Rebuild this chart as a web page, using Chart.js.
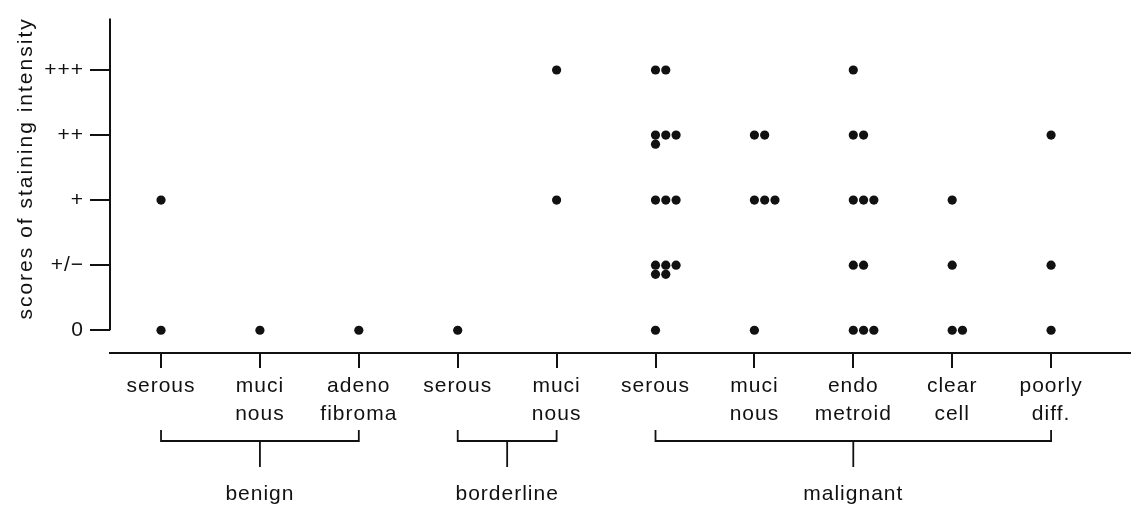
<!DOCTYPE html>
<html>
<head>
<meta charset="utf-8">
<script src="https://cdn.jsdelivr.net/npm/chart.js@4/dist/chart.umd.min.js"></script>
<style>
  html, body { margin: 0; padding: 0; background: #fff; }
  #wrap { width: 1136px; height: 506px; }
</style>
</head>
<body>
<div id="wrap"><canvas id="chart"></canvas></div>
<script>
// tumour subtypes along the x axis (two-line labels)
const categories = [
  ['serous'], ['muci', 'nous'], ['adeno', 'fibroma'],
  ['serous'], ['muci', 'nous'],
  ['serous'], ['muci', 'nous'], ['endo', 'metroid'], ['clear', 'cell'], ['poorly', 'diff.']
];
const yTickValues = [0, 1, 2, 3, 4];
const yTickLabels = ['0', '+/\u2212', '+', '++', '+++'];

// number of cases per subtype at each staining score
const nScore0    = [1, 1, 1, 1, 0, 1, 1, 3, 2, 1];
const nScorePM   = [0, 0, 0, 0, 0, 5, 0, 2, 1, 1];
const nScore1    = [1, 0, 0, 0, 1, 3, 3, 3, 1, 0];
const nScore2    = [0, 0, 0, 0, 0, 4, 2, 2, 0, 1];
const nScore3    = [0, 0, 0, 0, 1, 2, 0, 1, 0, 0];

// groups under the bracket
const groups     = ['benign', 'borderline', 'malignant'];
const groupFirst = [0, 3, 5];
const groupLast  = [2, 4, 9];

const ink = '#111';
const fontFamily = '"Liberation Sans", Arial, Helvetica, sans-serif';

// dots sit side by side, 3 per row, extra rows drop slightly below
const levels = [nScore0, nScorePM, nScore1, nScore2, nScore3];
const points = [];
categories.forEach((c, i) => {
  levels.forEach((arr, score) => {
    for (let k = 0; k < arr[i]; k++) {
      points.push({ x: i + (k % 3) * 0.104, y: score - Math.floor(k / 3) * 0.14 });
    }
  });
});

const axisPlugin = {
  id: 'axisExtras',
  beforeDraw(chart) {
    chart.ctx.letterSpacing = '1px';
  },
  afterDraw(chart) {
    const { ctx, chartArea, scales: { x, y } } = chart;
    ctx.save();
    ctx.strokeStyle = ink;
    ctx.fillStyle = ink;
    ctx.lineWidth = 2;

    // vertical axis stops at score 0
    ctx.beginPath();
    ctx.moveTo(chartArea.left, chartArea.top);
    ctx.lineTo(chartArea.left, y.getPixelForValue(0));
    ctx.stroke();

    // group brackets
    const base = chartArea.bottom;
    ctx.lineWidth = 1.8;
    ctx.font = '21px ' + fontFamily;
    ctx.textAlign = 'center';
    ctx.textBaseline = 'alphabetic';
    groups.forEach((g, i) => {
      const x0 = x.getPixelForValue(groupFirst[i]);
      const x1 = x.getPixelForValue(groupLast[i]);
      const xm = x.getPixelForValue((groupFirst[i] + groupLast[i]) / 2);
      ctx.beginPath();
      ctx.moveTo(x0, base + 77);
      ctx.lineTo(x0, base + 88);
      ctx.lineTo(x1, base + 88);
      ctx.lineTo(x1, base + 77);
      ctx.moveTo(xm, base + 88);
      ctx.lineTo(xm, base + 114);
      ctx.stroke();
      ctx.fillText(g, xm, base + 147);
    });

    // y axis title
    ctx.translate(26, (chartArea.top + y.getPixelForValue(0)) / 2 - 6);
    ctx.rotate(-Math.PI / 2);
    ctx.font = '21px ' + fontFamily;
    ctx.letterSpacing = '2px';
    ctx.textBaseline = 'middle';
    ctx.fillText('scores of staining intensity', 0, 0);
    ctx.restore();
  }
};

Chart.defaults.font.family = fontFamily;
Chart.defaults.color = ink;

new Chart(document.getElementById('chart'), {
  type: 'scatter',
  data: {
    datasets: [{
      data: points,
      backgroundColor: ink,
      borderWidth: 0,
      pointRadius: 4.6,
      pointHoverRadius: 4.6
    }]
  },
  options: {
    responsive: true,
    maintainAspectRatio: false,
    animation: false,
    layout: { padding: { left: 0, right: 6, top: 15, bottom: 0 } },
    plugins: { legend: { display: false }, tooltip: { enabled: false } },
    scales: {
      x: {
        type: 'linear',
        min: -0.516,
        max: 9.798,
        afterBuildTicks: s => { s.ticks = categories.map((c, i) => ({ value: i })); },
        afterFit: s => { s.height = 153; },
        ticks: {
          autoSkip: false,
          maxRotation: 0,
          padding: 4,
          font: { size: 21, lineHeight: 1.333 },
          callback: v => categories[v]
        },
        grid: { drawOnChartArea: false, drawTicks: true, tickLength: 15, color: ink, lineWidth: 2 },
        border: { display: true, color: ink, width: 2 }
      },
      y: {
        type: 'linear',
        min: -0.35,
        max: 4.79,
        afterBuildTicks: s => { s.ticks = yTickValues.map(v => ({ value: v })); },
        afterFit: s => { s.width = 110; },
        ticks: {
          padding: 6,
          font: { size: 21 },
          callback: v => yTickLabels[yTickValues.indexOf(v)]
        },
        grid: { drawOnChartArea: false, drawTicks: true, tickLength: 20, color: ink, lineWidth: 2 },
        border: { display: false }
      }
    }
  },
  plugins: [axisPlugin]
});
</script>
</body>
</html>
